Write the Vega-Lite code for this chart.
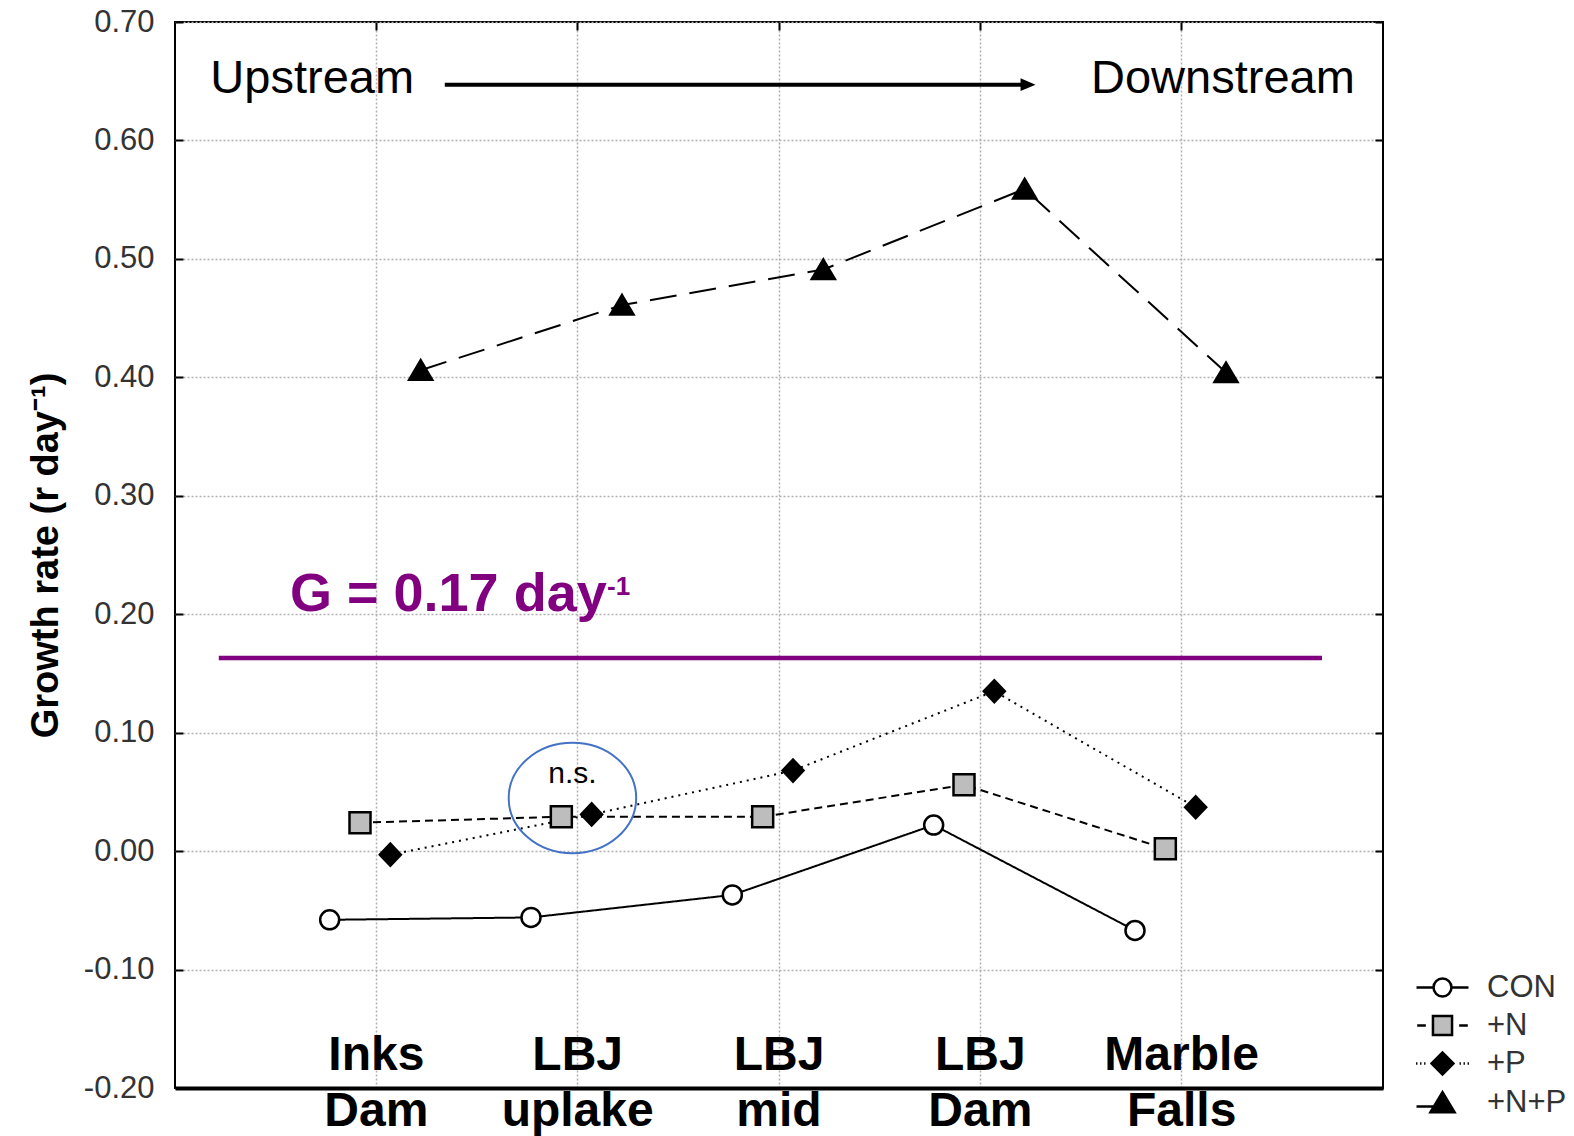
{
  "$schema": "https://vega.github.io/schema/vega-lite/v6.json",
  "width": 1208,
  "height": 1066,
  "autosize": {"type": "none"},
  "padding": {"left": 175, "top": 22, "right": 191, "bottom": 48},
  "background": "white",
  "config": {"view": {"stroke": "black", "strokeWidth": 2}, "font": "Liberation Sans"},
  "datasets": {
    "growth": [
      {"site": "Inks Dam", "idx": 1, "treatment": "CON", "r": -0.058},
      {"site": "LBJ uplake", "idx": 2, "treatment": "CON", "r": -0.056},
      {"site": "LBJ mid", "idx": 3, "treatment": "CON", "r": -0.037},
      {"site": "LBJ Dam", "idx": 4, "treatment": "CON", "r": 0.022},
      {"site": "Marble Falls", "idx": 5, "treatment": "CON", "r": -0.067},
      {"site": "Inks Dam", "idx": 1, "treatment": "+N", "r": 0.024},
      {"site": "LBJ uplake", "idx": 2, "treatment": "+N", "r": 0.029},
      {"site": "LBJ mid", "idx": 3, "treatment": "+N", "r": 0.029},
      {"site": "LBJ Dam", "idx": 4, "treatment": "+N", "r": 0.056},
      {"site": "Marble Falls", "idx": 5, "treatment": "+N", "r": 0.002},
      {"site": "Inks Dam", "idx": 1, "treatment": "+P", "r": -0.003},
      {"site": "LBJ uplake", "idx": 2, "treatment": "+P", "r": 0.031},
      {"site": "LBJ mid", "idx": 3, "treatment": "+P", "r": 0.068},
      {"site": "LBJ Dam", "idx": 4, "treatment": "+P", "r": 0.135},
      {"site": "Marble Falls", "idx": 5, "treatment": "+P", "r": 0.037},
      {"site": "Inks Dam", "idx": 1, "treatment": "+N+P", "r": 0.406},
      {"site": "LBJ uplake", "idx": 2, "treatment": "+N+P", "r": 0.461},
      {"site": "LBJ mid", "idx": 3, "treatment": "+N+P", "r": 0.491},
      {"site": "LBJ Dam", "idx": 4, "treatment": "+N+P", "r": 0.559},
      {"site": "Marble Falls", "idx": 5, "treatment": "+N+P", "r": 0.404}
    ]
  },
  "layer": [
    {
      "data": {"name": "growth"},
      "mark": {"type": "line", "stroke": "black", "strokeWidth": 2},
      "encoding": {
        "x": {"field": "site", "type": "nominal",
          "scale": {"domain": ["Inks Dam", "LBJ uplake", "LBJ mid", "LBJ Dam", "Marble Falls"], "paddingInner": 0, "paddingOuter": 0.5},
          "axis": {"orient": "bottom", "title": null, "grid": true, "gridColor": "#b0b0b0", "gridDash": [2, 2], "gridWidth": 1.5,
            "ticks": false, "domainColor": "black", "domainWidth": 4, "bandPosition": 0.5,
            "labelFont": "Liberation Sans", "labelFontSize": 48, "labelFontWeight": "bold", "labelColor": "black",
            "labelPadding": -19, "labelBaseline": "alphabetic", "labelLineHeight": 56, "labelAngle": 0,
            "labelExpr": "split(datum.label, ' ')", "labelOverlap": false, "labelBound": false, "labelFlush": false}},
        "xOffset": {"field": "treatment", "type": "nominal", "scale": {"type": "point", "domain": ["CON", "+N", "+P", "+N+P"], "range": [54, 145], "padding": 0}},
        "y": {"field": "r", "type": "quantitative", "scale": {"domain": [-0.2, 0.7], "nice": false, "zero": false},
          "axis": {"orient": "left", "values": [-0.2, -0.1, 0, 0.1, 0.2, 0.3, 0.4, 0.5, 0.6, 0.7],
            "labelExpr": "datum.value < 0 ? '-' + format(-datum.value, '.2f') : format(datum.value, '.2f')",
            "title": "Growth rate (r day⁻¹)", "titleFont": "Liberation Sans", "titleFontSize": 38, "titleFontWeight": "bold", "titleColor": "black", "titlePadding": 18,
            "labelFont": "Liberation Sans", "labelFontSize": 31, "labelColor": "#333", "labelPadding": 29,
            "ticks": true, "tickSize": -8, "tickColor": "black", "tickWidth": 2, "domain": false,
            "grid": true, "gridColor": "#b0b0b0", "gridDash": [2, 2], "gridWidth": 1.5}},
        "strokeDash": {"field": "treatment", "type": "nominal", "scale": {"domain": ["CON", "+N", "+P", "+N+P"], "range": [[1, 0], [8, 5], [2, 5], [27, 13]]}, "legend": null},
        "order": {"field": "idx", "type": "quantitative"}
      }
    },
    {
      "data": {"name": "growth"},
      "mark": {"type": "point", "filled": false, "opacity": 1, "stroke": "black", "strokeWidth": 2.5, "size": 400},
      "encoding": {
        "x": {"field": "site", "type": "nominal",
          "scale": {"domain": ["Inks Dam", "LBJ uplake", "LBJ mid", "LBJ Dam", "Marble Falls"], "paddingInner": 0, "paddingOuter": 0.5},
          "axis": {"orient": "top", "title": null, "labels": false, "grid": false, "domain": false, "ticks": true, "tickSize": -8, "tickColor": "black", "tickWidth": 2, "bandPosition": 0.5}},
        "xOffset": {"field": "treatment", "type": "nominal", "scale": {"type": "point", "domain": ["CON", "+N", "+P", "+N+P"], "range": [54, 145], "padding": 0}},
        "y": {"field": "r", "type": "quantitative", "scale": {"domain": [-0.2, 0.7], "nice": false, "zero": false},
          "axis": {"orient": "right", "title": null, "labels": false, "grid": false, "domain": false, "ticks": true, "tickSize": -8, "tickColor": "black", "tickWidth": 2,
            "values": [-0.2, -0.1, 0, 0.1, 0.2, 0.3, 0.4, 0.5, 0.6, 0.7]}},
        "shape": {"field": "treatment", "type": "nominal", "legend": null,
          "scale": {"domain": ["CON", "+N", "+P", "+N+P"],
            "range": ["M-0.95,0A0.95,0.95 0 1,0 0.95,0A0.95,0.95 0 1,0 -0.95,0Z", "M-1.05,-1.05H1.05V1.05H-1.05Z", "M-1.05,0L0,-1.1L1.05,0L0,1.1Z", "M0,-1L1.15,0.95L-1.15,0.95Z"]}},
        "fill": {"field": "treatment", "type": "nominal", "legend": null,
          "scale": {"domain": ["CON", "+N", "+P", "+N+P"], "range": ["white", "#bdbdbd", "black", "black"]}}
      }
    },
    {
      "data": {"name": "growth"},
      "mark": {"type": "point", "size": 0, "opacity": 1, "strokeWidth": 2.5},
      "encoding": {
        "shape": {"field": "treatment", "type": "nominal",
          "scale": {"domain": ["CON", "+N", "+P", "+N+P"],
            "range": [
              "M-2.26,0H-0.78M0.78,0H2.26M-0.78,0A0.78,0.78 0 1,1 0.78,0A0.78,0.78 0 1,1 -0.78,0Z",
              "M-2.2,0H-1.45M1.45,0H2.2M-0.83,-0.83H0.83V0.83H-0.83Z",
              "M-2.3,0H-2.18M-1.95,0H-1.83M-1.6,0H-1.48M1.48,0H1.6M1.83,0H1.95M2.18,0H2.3M-0.95,0L0,-0.95L0.95,0L0,0.95Z",
              "M-2.26,0.35H0.3M0,-0.9L1.05,0.85L-1.05,0.85Z"
            ]},
          "legend": {"orient": "none", "legendX": 1252, "legendY": 950, "title": null, "symbolSize": 529, "padding": 0,
            "labelFont": "Liberation Sans", "labelFontSize": 31, "labelColor": "#333", "labelOffset": 29, "rowPadding": 6,
            "symbolStrokeColor": "black", "symbolStrokeWidth": 2.5, "symbolOpacity": 1}},
        "fill": {"field": "treatment", "type": "nominal",
          "scale": {"domain": ["CON", "+N", "+P", "+N+P"], "range": ["white", "#bdbdbd", "black", "black"]},
          "legend": {"orient": "none", "legendX": 1252, "legendY": 950, "title": null, "symbolSize": 529, "padding": 0,
            "labelFont": "Liberation Sans", "labelFontSize": 31, "labelColor": "#333", "labelOffset": 29, "rowPadding": 6,
            "symbolStrokeColor": "black", "symbolStrokeWidth": 2.5, "symbolOpacity": 1}},
        "stroke": {"field": "treatment", "type": "nominal",
          "scale": {"domain": ["CON", "+N", "+P", "+N+P"], "range": ["black", "black", "black", "black"]},
          "legend": {"orient": "none", "legendX": 1252, "legendY": 950, "title": null, "symbolSize": 529, "padding": 0,
            "labelFont": "Liberation Sans", "labelFontSize": 31, "labelColor": "#333", "labelOffset": 29, "rowPadding": 6,
            "symbolStrokeWidth": 2.5, "symbolOpacity": 1}}
      }
    },
    {
      "data": {"values": [{"label": "Upstream", "pos": 0.6815, "r": 0.6402}, {"label": "Downstream", "pos": 5.205, "r": 0.6402}]},
      "mark": {"type": "text", "font": "Liberation Sans", "fontSize": 47, "color": "black", "align": "center", "baseline": "alphabetic"},
      "encoding": {
        "x": {"field": "pos", "type": "quantitative", "scale": {"domain": [0, 6], "nice": false, "zero": false}, "axis": null},
        "y": {"field": "r", "type": "quantitative", "scale": {"domain": [-0.2, 0.7], "nice": false, "zero": false}, "axis": null},
        "text": {"field": "label"}
      }
    },
    {
      "data": {"values": [{"pos": 1.34, "pos2": 4.21, "r": 0.6471}]},
      "mark": {"type": "rule", "color": "black", "strokeWidth": 4},
      "encoding": {
        "x": {"field": "pos", "type": "quantitative", "scale": {"domain": [0, 6], "nice": false, "zero": false}, "axis": null},
        "x2": {"field": "pos2"},
        "y": {"field": "r", "type": "quantitative", "scale": {"domain": [-0.2, 0.7], "nice": false, "zero": false}, "axis": null}
      }
    },
    {
      "data": {"values": [{"pos": 4.237, "r": 0.6471}]},
      "mark": {"type": "point", "shape": "M-1,-0.85L1,0L-1,0.85Z", "size": 225, "filled": true, "color": "black", "opacity": 1},
      "encoding": {
        "x": {"field": "pos", "type": "quantitative", "scale": {"domain": [0, 6], "nice": false, "zero": false}, "axis": null},
        "y": {"field": "r", "type": "quantitative", "scale": {"domain": [-0.2, 0.7], "nice": false, "zero": false}, "axis": null}
      }
    },
    {
      "data": {"values": [{"pos": 0.2175, "pos2": 5.697, "r": 0.1631}]},
      "mark": {"type": "rule", "color": "#800080", "strokeWidth": 4.5},
      "encoding": {
        "x": {"field": "pos", "type": "quantitative", "scale": {"domain": [0, 6], "nice": false, "zero": false}, "axis": null},
        "x2": {"field": "pos2"},
        "y": {"field": "r", "type": "quantitative", "scale": {"domain": [-0.2, 0.7], "nice": false, "zero": false}, "axis": null}
      }
    },
    {
      "data": {"values": [{"label": "G = 0.17 day", "pos": 0.5712, "r": 0.2028}]},
      "mark": {"type": "text", "font": "Liberation Sans", "fontSize": 54, "fontWeight": "bold", "color": "#800080", "align": "left", "baseline": "alphabetic"},
      "encoding": {
        "x": {"field": "pos", "type": "quantitative", "scale": {"domain": [0, 6], "nice": false, "zero": false}, "axis": null},
        "y": {"field": "r", "type": "quantitative", "scale": {"domain": [-0.2, 0.7], "nice": false, "zero": false}, "axis": null},
        "text": {"field": "label"}
      }
    },
    {
      "data": {"values": [{"label": "-1", "pos": 2.146, "r": 0.2165}]},
      "mark": {"type": "text", "font": "Liberation Sans", "fontSize": 26, "fontWeight": "bold", "color": "#800080", "align": "left", "baseline": "alphabetic"},
      "encoding": {
        "x": {"field": "pos", "type": "quantitative", "scale": {"domain": [0, 6], "nice": false, "zero": false}, "axis": null},
        "y": {"field": "r", "type": "quantitative", "scale": {"domain": [-0.2, 0.7], "nice": false, "zero": false}, "axis": null},
        "text": {"field": "label"}
      }
    },
    {
      "data": {"values": [{"pos": 1.974, "r": 0.0448}]},
      "mark": {"type": "point", "shape": "M-1,0A1,0.866 0 1,0 1,0A1,0.866 0 1,0 -1,0Z", "size": 16256, "filled": false, "stroke": "#4472C4", "strokeWidth": 2, "opacity": 1},
      "encoding": {
        "x": {"field": "pos", "type": "quantitative", "scale": {"domain": [0, 6], "nice": false, "zero": false}, "axis": null},
        "y": {"field": "r", "type": "quantitative", "scale": {"domain": [-0.2, 0.7], "nice": false, "zero": false}, "axis": null}
      }
    },
    {
      "data": {"values": [{"label": "n.s.", "pos": 1.974, "r": 0.0575}]},
      "mark": {"type": "text", "font": "Liberation Sans", "fontSize": 30, "color": "black", "align": "center", "baseline": "alphabetic"},
      "encoding": {
        "x": {"field": "pos", "type": "quantitative", "scale": {"domain": [0, 6], "nice": false, "zero": false}, "axis": null},
        "y": {"field": "r", "type": "quantitative", "scale": {"domain": [-0.2, 0.7], "nice": false, "zero": false}, "axis": null},
        "text": {"field": "label"}
      }
    }
  ],
  "resolve": {
    "scale": {"x": "independent", "shape": "independent", "fill": "independent", "stroke": "independent"},
    "axis": {"x": "independent", "y": "independent"}
  }
}
